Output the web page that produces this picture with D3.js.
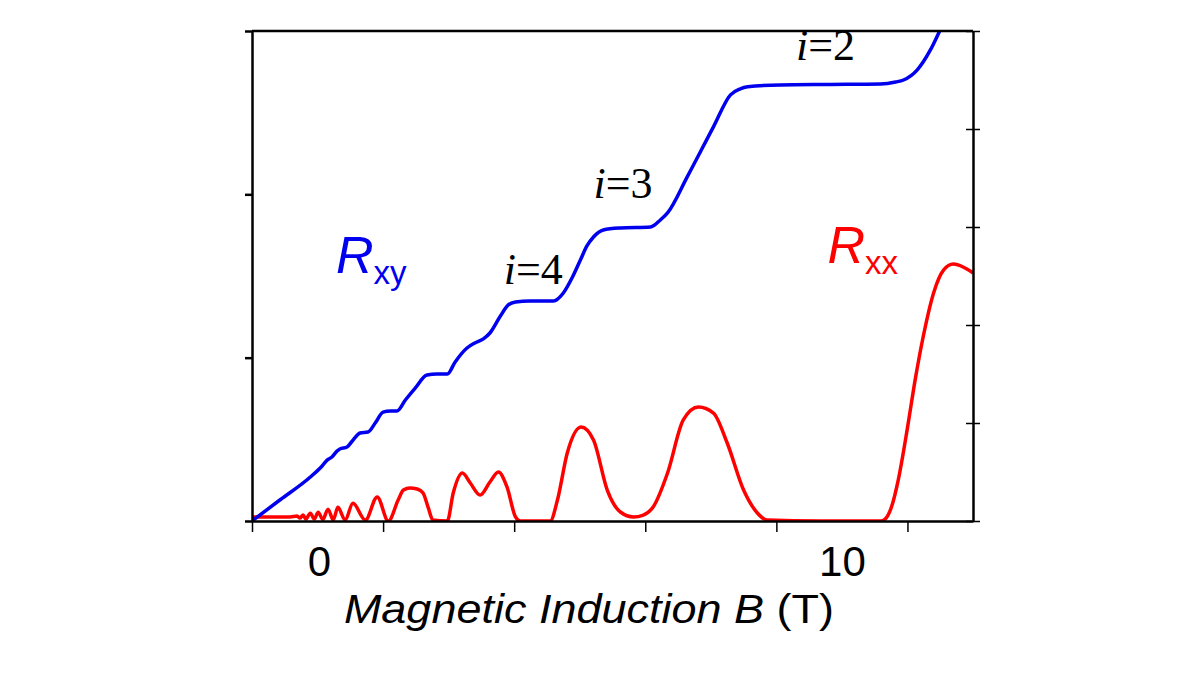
<!DOCTYPE html>
<html>
<head>
<meta charset="utf-8">
<script src="https://cdn.jsdelivr.net/npm/d3@7"></script>
<style>
    body { margin: 0; background: #fff; }
    svg { display: block; }
    .axis path, .axis line { stroke: #000; }
    .axis text { font-family: "Liberation Sans", Arial, sans-serif; fill: #000; }
</style>
</head>
<body>
<div id="chart"></div>
<script>

// field values (T) and Hall resistance (left axis units)
const rxyB = [0, 0.43, 0.89, 1.07, 1.15, 1.22, 1.30, 1.34, 1.45, 1.53, 1.65, 1.77, 1.88, 2.00, 2.11, 2.21,
    2.34, 2.49, 2.67, 2.82, 2.98, 3.10, 3.28, 3.40, 3.53, 3.63, 3.79, 3.91, 4.02, 4.24, 4.60, 4.75,
    4.89, 5.01, 5.11, 5.21, 5.36, 5.62, 6.08, 6.23, 6.34, 6.64, 7.04, 7.30, 7.45, 7.56, 8.06, 8.82,
    9.59, 9.82, 9.94, 10.15, 10.35, 10.50, 10.69];
const rxyVals = [0, 0.13, 0.269, 0.337, 0.374, 0.392, 0.429, 0.441, 0.453, 0.490, 0.539, 0.545, 0.600, 0.667, 0.674, 0.674,
    0.741, 0.814, 0.894, 0.900, 0.900, 0.974, 1.059, 1.090, 1.115, 1.151, 1.255, 1.323, 1.341, 1.347, 1.347, 1.396,
    1.494, 1.598, 1.684, 1.739, 1.782, 1.794, 1.800, 1.843, 1.886, 2.107, 2.413, 2.609, 2.646, 2.658, 2.670, 2.673,
    2.676, 2.688, 2.700, 2.762, 2.884, 3.007, 3.16];

// field values (T) and longitudinal resistance (right axis units)
const rxxB = [0, 0.35, 0.58, 0.69, 0.73, 0.78, 0.82, 0.89, 0.95, 1.01, 1.08, 1.16, 1.24, 1.31, 1.42, 1.54,
    1.73, 1.91, 2.08, 2.23, 2.31, 2.41, 2.52, 2.61, 2.69, 2.76, 2.98, 3.07, 3.21, 3.33, 3.48, 3.63,
    3.76, 3.89, 4.02, 4.09, 4.55, 4.66, 4.81, 5.02, 5.21, 5.42, 5.62, 5.82, 5.97, 6.12, 6.34, 6.58,
    6.81, 7.04, 7.25, 7.50, 7.71, 7.86, 8.67, 9.59, 9.66, 9.76, 9.86, 10.00, 10.12, 10.24, 10.40, 10.55,
    10.70, 10.85, 11.00];
const rxxVals = [0.041, 0.041, 0.041, 0.05, 0.03, 0.06, 0.02, 0.08, 0.02, 0.09, 0.015, 0.12, 0.01, 0.14, 0.01, 0.18,
    0.01, 0.245, 0, 0.214, 0.316, 0.337, 0.327, 0.286, 0.133, 0.01, 0, 0.286, 0.490, 0.388, 0.265, 0.398,
    0.500, 0.347, 0.041, 0, 0, 0.214, 0.694, 0.959, 0.827, 0.316, 0.092, 0.041, 0.061, 0.143, 0.490, 1.031,
    1.163, 1.102, 0.796, 0.316, 0.082, 0.01, 0, 0, 0.02, 0.15, 0.42, 0.95, 1.45, 1.88, 2.33, 2.56,
    2.622, 2.592, 2.531];

// axes
const xTicks = [0, 2, 4, 6, 8, 10];
const xLabelPos = [1.02, 9.0];      // the slide's labels sit between the ticks
const xLabelText = ["0", "10"];
const leftTicks = [0, 1, 2, 3];
const rightTicks = [0, 1, 2, 3, 4, 5];

// plateau labels
const plateauText = ["4", "3", "2"];
const plateauB = [3.84, 5.21, 8.30];
const plateauY = [1.45, 1.98, 2.82];

const width = 1200, height = 675;
const margin = {top: 31, right: 227, bottom: 154, left: 252};
const innerW = width - margin.left - margin.right;
const innerH = height - margin.top - margin.bottom;

const svg = d3.select("#chart").append("svg")
    .attr("width", width)
    .attr("height", height);

const g = svg.append("g")
    .attr("transform", `translate(${margin.left}, ${margin.top})`);

const x = d3.scaleLinear().domain([0, 11]).range([0, innerW]);
const yL = d3.scaleLinear().domain([0, 3]).range([innerH, 0]);
const yR = d3.scaleLinear().domain([0, 5]).range([innerH, 0]);

g.append("clipPath").attr("id", "plot-clip")
    .append("rect").attr("width", innerW).attr("height", innerH);

// curves
const rxyLine = d3.line()
    .x(d => x(d[0]))
    .y(d => yL(d[1]))
    .curve(d3.curveMonotoneX);

const rxxLine = d3.line()
    .x(d => x(d[0]))
    .y(d => yR(d[1]))
    .curve(d3.curveMonotoneX);

g.append("path")
    .datum(rxxB.map((b, i) => [b, rxxVals[i]]))
    .attr("clip-path", "url(#plot-clip)")
    .attr("fill", "none")
    .attr("stroke", "#ff0000")
    .attr("stroke-width", 3.5)
    .attr("stroke-linejoin", "round")
    .attr("d", rxxLine);

g.append("path")
    .datum(rxyB.map((b, i) => [b, rxyVals[i]]))
    .attr("clip-path", "url(#plot-clip)")
    .attr("fill", "none")
    .attr("stroke", "#0000ee")
    .attr("stroke-width", 3.5)
    .attr("stroke-linejoin", "round")
    .attr("d", rxyLine);

// axes frame
g.append("g")
    .attr("class", "axis")
    .attr("transform", `translate(0, ${innerH})`)
    .call(d3.axisBottom(x).tickValues(xTicks).tickSize(11).tickSizeOuter(0).tickFormat(""))
    .call(a => a.select(".domain").attr("stroke-width", 2.5))
    .call(a => a.selectAll(".tick line").attr("stroke-width", 1.5));

g.append("g")
    .attr("class", "axis")
    .call(d3.axisLeft(yL).tickValues(leftTicks).tickSize(7).tickSizeOuter(0).tickFormat(""))
    .call(a => a.select(".domain").attr("stroke-width", 2.5))
    .call(a => a.selectAll(".tick line").attr("stroke-width", 2.5));

g.append("g")
    .attr("class", "axis")
    .attr("transform", `translate(${innerW}, 0)`)
    .call(d3.axisRight(yR).tickValues(rightTicks).tickSize(7).tickSizeOuter(0).tickFormat(""))
    .call(a => a.select(".domain").attr("stroke-width", 2.5))
    .call(a => a.selectAll(".tick line").attr("stroke-width", 1.5).attr("x1", -7));

// top border
g.append("line")
    .attr("x1", 0).attr("x2", innerW)
    .attr("y1", 0).attr("y2", 0)
    .attr("stroke", "#000")
    .attr("stroke-width", 2.5);

// tick labels
g.append("g")
    .attr("class", "axis")
    .attr("transform", `translate(0, ${innerH})`)
    .call(d3.axisBottom(x).tickValues(xLabelPos).tickSize(0).tickPadding(25)
        .tickFormat((d, i) => xLabelText[i]))
    .call(a => a.select(".domain").remove())
    .call(a => a.selectAll("text").attr("font-size", 42).attr("dy", "0.71em"));

// axis title
const title = svg.append("text")
    .attr("x", margin.left + x(5.14))
    .attr("y", 623)
    .attr("text-anchor", "middle")
    .attr("font-family", "Liberation Sans, Arial, sans-serif")
    .attr("font-size", 41)
    .attr("textLength", 490)
    .attr("lengthAdjust", "spacingAndGlyphs")
    .attr("fill", "#000");
title.append("tspan").attr("font-style", "italic").text("Magnetic Induction B");
title.append("tspan").text(" (T)");

// curve labels
function curveLabel(bx, yy, sub, color) {
    const t = g.append("text")
        .attr("x", x(bx))
        .attr("y", yy)
        .attr("font-family", "Liberation Sans, Arial, sans-serif")
        .attr("fill", color);
    t.append("tspan").attr("font-style", "italic").attr("font-size", 52).text("R");
    t.append("tspan").attr("font-size", 33).attr("dy", 11).text(sub);
}
curveLabel(1.28, yL(1.52), "xy", "#0000ee");
curveLabel(8.78, yR(2.63), "xx", "#ff0000");

// plateau labels
plateauText.forEach((s, i) => {
    const t = g.append("text")
        .attr("x", x(plateauB[i]))
        .attr("y", yL(plateauY[i]))
        .attr("font-family", "Liberation Serif, 'Times New Roman', serif")
        .attr("font-size", 44)
        .attr("fill", "#000");
    t.append("tspan").attr("font-style", "italic").text("i");
    t.append("tspan").text("=" + s);
});

</script>
</body>
</html>
